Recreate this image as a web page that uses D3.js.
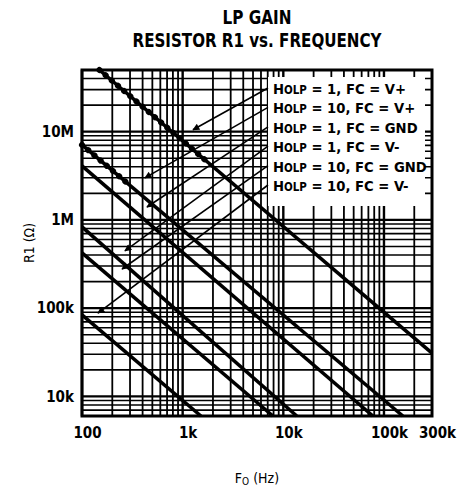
<!DOCTYPE html>
<html><head><meta charset="utf-8">
<script src="https://cdn.jsdelivr.net/npm/d3@7"></script>
<style>
html,body{margin:0;padding:0;background:#fff;}
svg{display:block;}
text{font-family:"Liberation Sans Narrow","DejaVu Sans Condensed","Liberation Sans",sans-serif;fill:#000;}
</style></head><body>
<svg id="chart" width="465" height="489"></svg>
<script>
// ---- data ----
const titleLines = ["LP GAIN", "RESISTOR R1 vs. FREQUENCY"];
const freqTickValues = [100, 1000, 10000, 100000, 300000];
const freqTickLabels = ["100", "1k", "10k", "100k", "300k"];
const resTickValues = [1e4, 1e5, 1e6, 1e7];
const resTickLabels = ["10k", "100k", "1M", "10M"];
const seriesGain = ["1", "10", "1", "1", "10", "10"];
const seriesFC = ["V+", "V+", "GND", "V-", "GND", "V-"];
// each curve: where it enters and leaves the frame (Hz, ohms)
const startFreq = [149, 100, 100, 100, 100, 100];
const startRes = [5.0e7, 7.09e6, 4.09e6, 8.34e5, 4.23e5, 8.38e4];
const endFreq = [300000, 154000, 77600, 13600, 7880, 1519];
const endRes = [31000, 6000, 6000, 6000, 6000, 6000];
// beaded (dotted) part of the two upper curves, up to this frequency
const beadEndFreq = [1800, 300, null, null, null, null];
// arrow tips of the legend leaders (Hz, ohms)
const arrowFreq = [1266, 422, 442, 267, 250, 144];
const arrowRes = [1.05e7, 3.0e6, 1.4e6, 4.46e5, 2.78e5, 8.8e4];

// ---- layout ----
const svg = d3.select("#chart");
const L = 82, R = 432, T = 70, B = 416;
const x = d3.scaleLog().domain([100, 300000]).range([L, R]);
const y = d3.scaleLog().domain([6000, 5e7]).range([B, T]);

// grid
const g = svg.append("g");
const isMajor = v => Math.abs(Math.log10(v) - Math.round(Math.log10(v))) < 1e-9;
g.selectAll("line.vx").data(x.ticks()).join("line")
  .attr("x1", d => x(d)).attr("x2", d => x(d)).attr("y1", T).attr("y2", B)
  .attr("stroke", "#000").attr("stroke-width", d => isMajor(d) ? 2.4 : 1.8);
g.selectAll("line.hy").data(y.ticks()).join("line")
  .attr("y1", d => y(d)).attr("y2", d => y(d)).attr("x1", L).attr("x2", R)
  .attr("stroke", "#000").attr("stroke-width", d => isMajor(d) ? 2.2 : 1.6);

// curves
const lineGen = d3.line().x(d => x(d[0])).y(d => y(d[1]));
const curves = startFreq.map((f, i) => [[f, startRes[i]], [endFreq[i], endRes[i]]]);
svg.append("g").selectAll("path").data(curves).join("path")
  .attr("d", lineGen).attr("fill", "none").attr("stroke", "#000").attr("stroke-width", 3.6);

// beads on the upper curves
const beads = curves.map((c, i) => {
  if (beadEndFreq[i] == null) return null;
  const [f0, r0] = c[0], [f1, r1] = c[1];
  const t = (Math.log10(beadEndFreq[i]) - Math.log10(f0)) / (Math.log10(f1) - Math.log10(f0));
  const rb = Math.pow(10, Math.log10(r0) + t * (Math.log10(r1) - Math.log10(r0)));
  return [[f0, r0], [beadEndFreq[i], rb]];
}).filter(d => d);
svg.append("g").selectAll("path").data(beads).join("path")
  .attr("d", lineGen).attr("fill", "none").attr("stroke", "#000")
  .attr("stroke-width", 6).attr("stroke-linecap", "round").attr("stroke-dasharray", "0.1 8");

// legend box
const legX = 268, legY = 77, legW = 157, legH = 129;
svg.append("rect").attr("x", legX).attr("y", legY).attr("width", legW).attr("height", legH).attr("fill", "#fff");

const rowY0 = 94, rowStep = 19.4, textX = 273;
const leg = svg.append("g");
const rows = seriesGain.map((gn, i) => ({gn, fc: seriesFC[i], i}));
const tx = leg.selectAll("text").data(rows).join("text")
  .attr("x", textX).attr("y", d => rowY0 + d.i * rowStep)
  .attr("font-size", 17).attr("font-weight", "bold");
tx.append("tspan").text("H");
tx.append("tspan").attr("font-size", "0.78em").text("OLP");
tx.append("tspan").text(d => ` = ${d.gn}, FC = ${d.fc}`);
// fit the longest row to the measured width
let maxW = 0; tx.each(function(){ maxW = Math.max(maxW, this.getComputedTextLength()); });
tx.attr("font-size", 17 * 154 / maxW);

// arrows
const defs = svg.append("defs");
defs.append("marker").attr("id", "ah").attr("viewBox", "0 0 10 10").attr("refX", 9).attr("refY", 5)
  .attr("markerWidth", 10).attr("markerHeight", 7).attr("markerUnits", "userSpaceOnUse")
  .attr("orient", "auto").append("path").attr("d", "M0,0L10,5L0,10Z").attr("fill", "#000");
svg.append("g").selectAll("line").data(arrowFreq).join("line")
  .attr("x1", legX).attr("y1", (d, i) => rowY0 + i * rowStep - 6)
  .attr("x2", (d) => x(d)).attr("y2", (d, i) => y(arrowRes[i]))
  .attr("stroke", "#000").attr("stroke-width", 1.6).attr("marker-end", "url(#ah)");

// frame
svg.append("rect").attr("x", L).attr("y", T).attr("width", R - L).attr("height", B - T)
  .attr("fill", "none").attr("stroke", "#000").attr("stroke-width", 3);

// axes
const xAxis = svg.append("g").attr("transform", `translate(0,${B})`)
  .call(d3.axisBottom(x).tickValues(freqTickValues).tickSize(0).tickPadding(11)
    .tickFormat((d, i) => freqTickLabels[i]));
xAxis.select(".domain").remove();
xAxis.selectAll("text").attr("font-size", 15).attr("font-weight", "bold").attr("dx", 5)
  .attr("font-family", null);
const yAxis = svg.append("g").attr("transform", `translate(${L},0)`)
  .call(d3.axisLeft(y).tickValues(resTickValues).tickSize(0).tickPadding(8)
    .tickFormat((d, i) => resTickLabels[i]));
yAxis.select(".domain").remove();
yAxis.selectAll("text").attr("font-size", 15).attr("font-weight", "bold").attr("font-family", null);

// titles
const titleW = [69, 249];
svg.selectAll("text.title").data(titleLines).join("text").attr("class", "title")
  .attr("x", (L + R) / 2).attr("y", (d, i) => 24 + i * 23)
  .attr("text-anchor", "middle").attr("font-size", 19).attr("font-weight", "bold")
  .attr("textLength", (d, i) => titleW[i]).attr("lengthAdjust", "spacingAndGlyphs")
  .text(d => d);

// axis titles
const xt = svg.append("text").attr("x", (L + R) / 2).attr("y", 483).attr("text-anchor", "middle")
  .attr("font-size", 14);
xt.append("tspan").text("F");
xt.append("tspan").attr("font-size", 10).attr("dy", 2).text("O");
xt.append("tspan").attr("dy", -2).text(" (Hz)");
svg.append("text").attr("transform", `translate(34,${(T + B) / 2}) rotate(-90)`)
  .attr("text-anchor", "middle").attr("font-size", 14).text("R1 (\u03A9)");
</script></body></html>
